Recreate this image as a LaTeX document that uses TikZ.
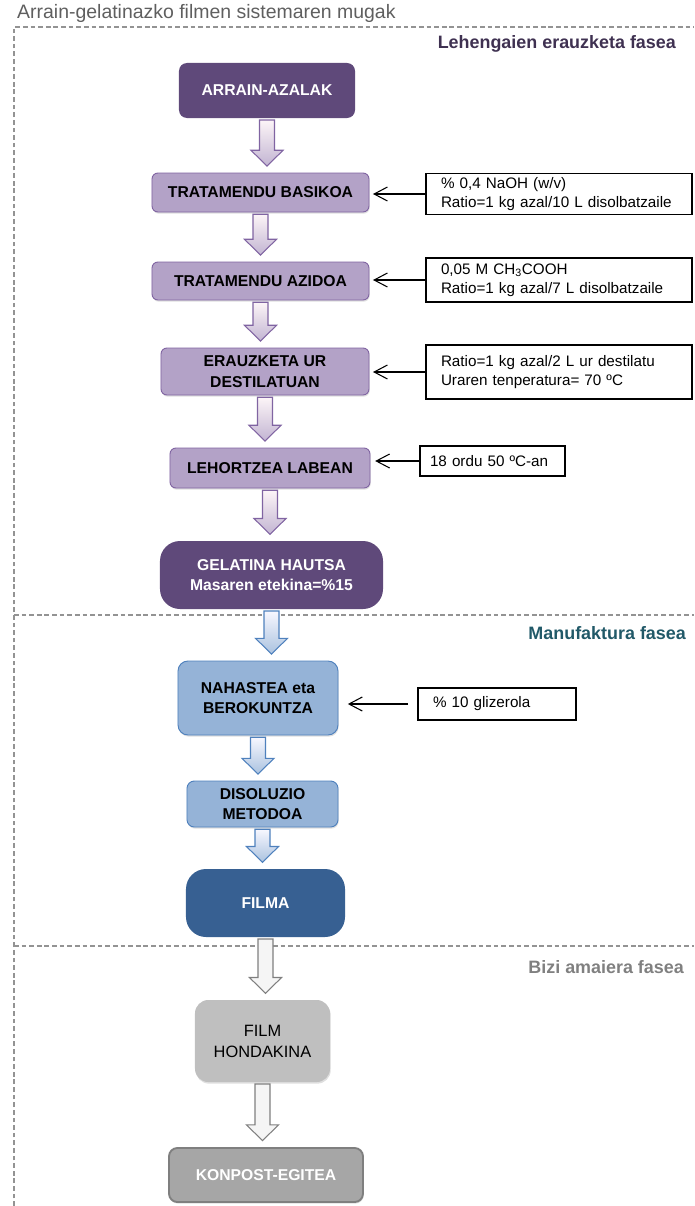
\documentclass[tikz,border=0pt]{standalone}
\usepackage{fontspec}
\setmainfont{Liberation Sans}
\usepackage{xcolor}
\usepackage{tikz}
\usetikzlibrary{arrows.meta, positioning, calc, shadows}

\definecolor{purdark}{HTML}{5F497A}
\definecolor{purlight}{HTML}{B3A2C7}
\definecolor{purline}{HTML}{8064A2}
\definecolor{purtext}{HTML}{3F3151}
\definecolor{blulight}{HTML}{95B3D7}
\definecolor{bluline}{HTML}{4F81BD}
\definecolor{bludark}{HTML}{376092}
\definecolor{blutext}{HTML}{215968}
\definecolor{grylight}{HTML}{BFBFBF}
\definecolor{grymid}{HTML}{A6A6A6}
\definecolor{gryline}{HTML}{7F7F7F}
\definecolor{grytext}{HTML}{5F5F5F}

\begin{document}
\begin{tikzpicture}[x=0.03cm, y=-0.03cm,
    boxfont/.style={font=\bfseries\fontsize{13.4}{17.5}\selectfont},
    shd/.style={drop shadow={opacity=0.25, shadow xshift=0.6pt, shadow yshift=-1.4pt}},
    darkpur/.style={boxfont, fill=purdark, text=white, align=center},
    lightpur/.style={boxfont, fill=purlight, draw=purline, line width=0.8pt, align=center, rounded corners=0.18cm, shd},
    lightblu/.style={boxfont, fill=blulight, draw=bluline, line width=0.8pt, align=center, rounded corners=0.3cm, shd},
    darkblu/.style={boxfont, fill=bludark, text=white, align=center},
    sidebox/.style={draw=black, line width=0.9pt, fill=white, align=left, inner xsep=0.45cm,
        font=\fontsize{13}{16.5}\selectfont},
    feed/.style={-{Straight Barb[length=4mm, width=4.2mm]}, line width=0.9pt},
    purarrow/.style={top color=purple!4!white, bottom color=purlight!80!white, draw=purline, line width=0.9pt},
    bluarrow/.style={top color=blue!3!white, bottom color=blulight!80!white, draw=bluline, line width=0.9pt},
    gryarrow/.style={fill=gray!8, draw=gryline, line width=0.9pt},
    border/.style={gray!85, line width=1.2pt, dash pattern=on 4pt off 2.5pt},
    phase/.style={font=\bfseries\fontsize{15.3}{18}\selectfont, anchor=east}]
    \useasboundingbox (0,0) rectangle (694,1206);

    % system boundary and phases
    \draw[border] (14,1206) -- (14,27) -- (694,27);
    \draw[border] (14,615) -- (694,615);
    \draw[border] (14,946) -- (694,946);
    \node[anchor=west, text=grytext, font=\fontsize{16.6}{19}\selectfont, inner sep=0pt] (tit) at (17,13) {Arrain-gelatinazko filmen sistemaren mugak};
    \node[phase, text=purtext] (ph1) at (680,44) {Lehengaien erauzketa fasea};
    \node[phase, text=blutext] (ph2) at (690,633) {Manufaktura fasea};
    \node[phase, text=gray] (ph3) at (688,967) {Bizi amaiera fasea};

    % main chain
    \node[darkpur, rounded corners=0.24cm, minimum width=5.28cm, minimum height=1.65cm] (arr) at (267,90.5) {ARRAIN-AZALAK};
    \node[lightpur, minimum width=6.51cm, minimum height=1.17cm] (bas) at (260.5,192.5) {TRATAMENDU BASIKOA};
    \node[lightpur, minimum width=6.51cm, minimum height=1.14cm] (azi) at (260.5,281) {TRATAMENDU AZIDOA};
    \node[lightpur, minimum width=6.24cm, minimum height=1.41cm] (erz) at (265,371.5) {ERAUZKETA UR\\DESTILATUAN};
    \node[lightpur, minimum width=6.0cm, minimum height=1.2cm] (leh) at (270,468) {LEHORTZEA LABEAN};
    \node[darkpur, rounded corners=0.6cm, minimum width=6.69cm, minimum height=2.04cm] (gel) at (271.5,575) {GELATINA HAUTSA\\Masaren etekina=\%15};
    \node[lightblu, minimum width=4.8cm, minimum height=2.22cm] (nah) at (258,698) {NAHASTEA eta\\BEROKUNTZA};
    \node[lightblu, rounded corners=0.22cm, minimum width=4.53cm, minimum height=1.38cm] (dis) at (262.5,804) {DISOLUZIO\\METODOA};
    \node[darkblu, rounded corners=0.6cm, minimum width=4.77cm, minimum height=2.04cm] (fil) at (265.5,903) {FILMA};
    \node[fill=grylight, rounded corners=0.4cm, align=center, shd, font=\fontsize{14}{18}\selectfont,
        minimum width=4.05cm, minimum height=2.46cm] (hon) at (262.5,1041) {FILM\\HONDAKINA};
    \node[boxfont, fill=grymid, draw=gryline, line width=1.6pt, text=white, rounded corners=0.25cm, shd,
        minimum width=5.82cm, minimum height=1.62cm] (kon) at (266,1175) {KONPOST-EGITEA};

    % side inputs
    \node[sidebox, text width=7.08cm, minimum height=1.2cm] (in1) at (559,194) {\% 0,4 NaOH (w/v)\\Ratio=1 kg azal/10 L disolbatzaile};
    \node[sidebox, text width=7.08cm, minimum height=1.32cm] (in2) at (559,280) {0,05 M CH\textsubscript{3}COOH\\Ratio=1 kg azal/7 L disolbatzaile};
    \node[sidebox, text width=7.08cm, minimum height=1.62cm] (in3) at (559,372) {Ratio=1 kg azal/2 L ur destilatu\\Uraren tenperatura= 70 ºC};
    \node[sidebox, inner xsep=0.3cm, text width=3.75cm, minimum height=0.9cm] (in4) at (492.5,461) {18 ordu 50 ºC-an};
    \node[sidebox, text width=3.84cm, minimum height=0.96cm] (in5) at (497,704) {\% 10 glizerola};

    \draw[feed, shorten >=3pt] (in1.west) -- (in1.west -| bas.east);
    \draw[feed, shorten >=3pt] (in2.west) -- (in2.west -| azi.east);
    \draw[feed, shorten >=3pt] (in3.west) -- (in3.west -| erz.east);
    \draw[feed, shorten >=4pt] (in4.west) -- (in4.west -| leh.east);
    \draw[feed, shorten <=8pt, shorten >=8pt] (in5.west) -- (in5.west -| nah.east);

    % block arrows
    \foreach \a/\b/\c in {arr/bas/purarrow, bas/azi/purarrow, azi/erz/purarrow, erz/leh/purarrow,
        leh/gel/purarrow, gel/nah/bluarrow, nah/dis/bluarrow, dis/fil/bluarrow,
        fil/hon/gryarrow, hon/kon/gryarrow} {
        \path[\c] let \p1=(\a.south), \p2=(\b.north) in
            (\x1-6.4pt,\y1-1.5pt) -- (\x1+6.4pt,\y1-1.5pt) -- (\x1+6.4pt,\y2+19pt)
            -- (\x1+13.7pt,\y2+19pt) -- (\x1,\y2+5.5pt) -- (\x1-13.7pt,\y2+19pt)
            -- (\x1-6.4pt,\y2+19pt) -- cycle;
    }
\end{tikzpicture}
\end{document}
